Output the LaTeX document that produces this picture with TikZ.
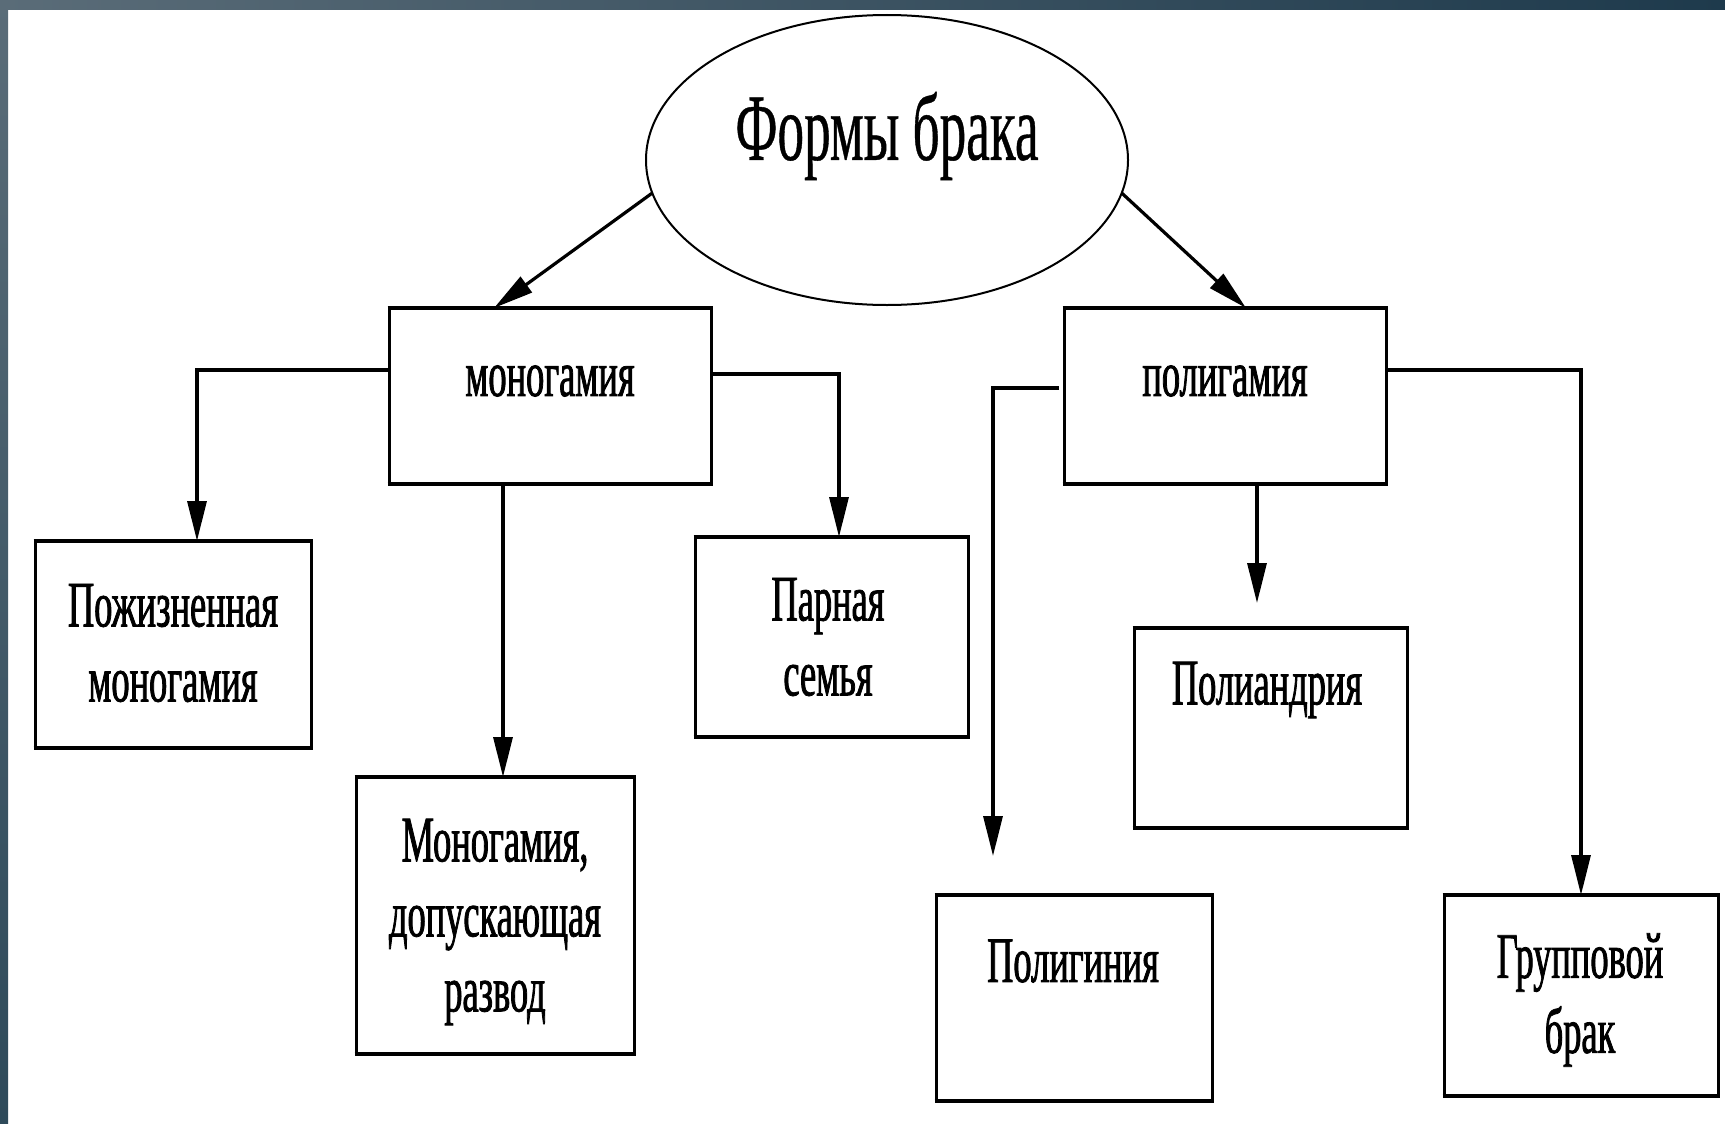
\documentclass[tikz,border=0pt]{standalone}
\usepackage{fontspec}
\usetikzlibrary{shapes.geometric,arrows.meta,calc}
\newfontfamily\boxfont[FakeStretch=0.56,FakeBold=1.2]{Liberation Serif}
\newfontfamily\titlefont[FakeStretch=0.56,FakeBold=0.4]{Liberation Serif}
\definecolor{frameA}{RGB}{90,108,120}
\definecolor{frameB}{RGB}{30,58,76}
\definecolor{frameC}{RGB}{46,74,90}
\tikzset{
  box/.style={draw, rectangle, line width=3pt, inner sep=0pt, outer sep=0pt},
  lbl/.style={font=\boxfont\fontsize{65pt}{75pt}\selectfont, align=center, inner sep=0pt},
  conn/.style={line width=3.2pt, -{Triangle[length=40pt,width=19pt]}},
  edgebar/.style={line width=4.5pt},
}
\begin{document}
\begin{tikzpicture}[x=1pt,y=-1pt]
\useasboundingbox (0,0) rectangle (1725,1124);
\fill[white] (0,0) rectangle (1725,1124);
\shade[left color=frameA, right color=frameB] (0,0) rectangle (1725,10);
\shade[top color=frameA, bottom color=frameC] (0,0) rectangle (8,1124);

% title ellipse
\node[draw, ellipse, line width=2pt, minimum width=482pt, minimum height=290pt, inner sep=0pt, outer sep=0pt] (ell) at (887,160) {};
\node[font=\titlefont\fontsize{95pt}{110pt}\selectfont, inner sep=0pt] (title) at (887,136) {Формы брака};

% boxes
\node[box, minimum width=322pt, minimum height=176pt] (mono)  at (550,396) {};
\node[box, minimum width=322pt, minimum height=176pt] (poly)  at (1225,396) {};
\node[box, minimum width=276pt, minimum height=207pt] (life)  at (173,644.5) {};
\node[box, minimum width=278pt, minimum height=277pt] (div)   at (495,915.5) {};
\node[box, minimum width=273pt, minimum height=200pt] (pair)  at (831.5,637) {};
\node[box, minimum width=273pt, minimum height=200pt] (pandr) at (1270.5,728) {};
\node[box, minimum width=276pt, minimum height=206pt] (pgyn)  at (1074,998) {};
\node[box, minimum width=274pt, minimum height=201pt] (group) at (1581,995.5) {};

\foreach \n in {mono,poly,life,div,pair,pandr,pgyn,group} {
  \draw[edgebar] ([xshift=-1.5pt]\n.north west) -- ([xshift=1.5pt]\n.north east);
  \draw[edgebar] ([xshift=-1.5pt]\n.south west) -- ([xshift=1.5pt]\n.south east);
}

% labels
\node[lbl] (monot)  at (550,381)  {моногамия};
\node[lbl] (polyt)  at (1225,381) {полигамия};
\node[lbl] (lifet)  at (173,643)  {Пожизненная\\моногамия};
\node[lbl] (divt)   at (495,922)  {Моногамия,\\допускающая\\развод};
\node[lbl] (pairt)  at (828,637)  {Парная\\семья};
\node[lbl] (pandrt) at (1267,690) {Полиандрия};
\node[lbl] (pgynt)  at (1073,961) {Полигиния};
\node[lbl] (groupt) at (1580,1000) {Групповой\\брак};

% connectors
\coordinate (pgynend) at (993,856);
\coordinate (pandrend) at (1257,603);
\draw[conn] (ell.188) -- ([xshift=-56pt]mono.north);
\draw[conn] (ell.352) -- ([xshift=21pt]poly.north);
\draw[conn] ([yshift=26pt]mono.west) -| ([xshift=24pt]life.north);
\draw[conn] ([yshift=22pt]mono.east) -| ([xshift=7.5pt]pair.north);
\draw[conn] ([xshift=-47pt]mono.south) -- ([xshift=-47pt]mono.south |- div.north);
\draw[conn] ([xshift=-5pt,yshift=8pt]poly.west) -| (pgynend);
\draw[conn] ([xshift=32pt]poly.south) -- (pandrend);
\draw[conn] ([yshift=26pt]poly.east) -| (group.north);
\end{tikzpicture}
\end{document}
